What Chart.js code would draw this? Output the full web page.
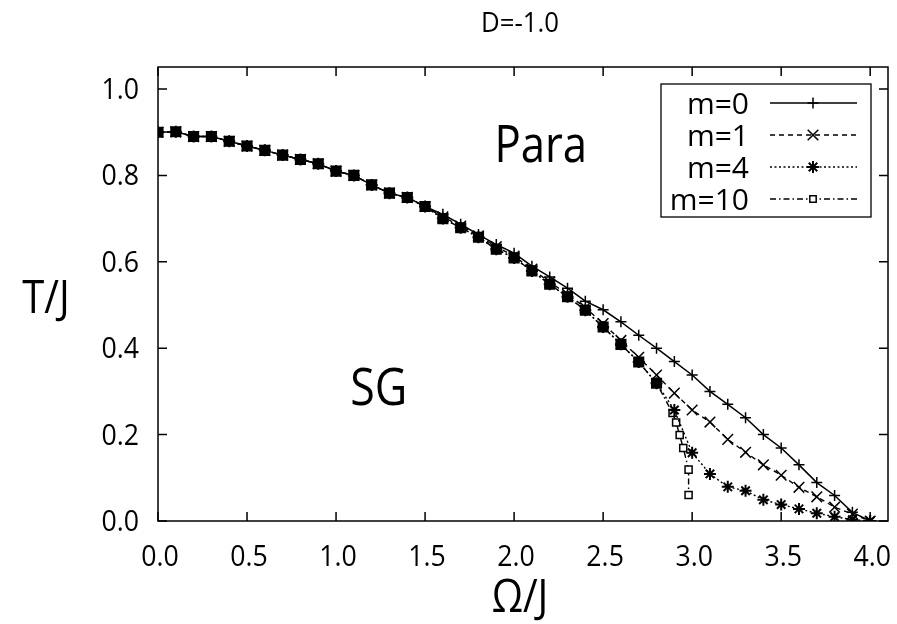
<!DOCTYPE html>
<html>
<head>
<meta charset="utf-8">
<script src="https://cdn.jsdelivr.net/npm/chart.js@4.4.1/dist/chart.umd.min.js"></script>
<style>
html,body{margin:0;padding:0;background:#fff;}
canvas{display:block;}
</style>
</head>
<body>
<canvas id="c" width="897" height="624"></canvas>
<script>
// ---- data ----
const omega = [0.0,0.1,0.2,0.3,0.4,0.5,0.6,0.7,0.8,0.9,1.0,1.1,1.2,1.3,1.4,1.5,1.6,1.7,1.8,1.9,2.0,
               2.1,2.2,2.3,2.4,2.5,2.6,2.7,2.8,2.9,3.0,3.1,3.2,3.3,3.4,3.5,3.6,3.7,3.8,3.9,4.0];
const tM0 = [0.900,0.901,0.890,0.890,0.879,0.868,0.858,0.847,0.837,0.827,0.810,0.800,0.778,0.759,0.749,0.728,
             0.710,0.687,0.663,0.640,0.620,0.590,0.565,0.539,0.509,0.489,0.461,0.430,0.400,0.369,0.338,
             0.300,0.270,0.239,0.200,0.169,0.130,0.089,0.059,0.020,0.000];
const tM1 = [0.900,0.901,0.890,0.890,0.879,0.868,0.858,0.847,0.837,0.827,0.810,0.800,0.778,0.759,0.749,0.728,
             0.704,0.683,0.660,0.635,0.613,0.583,0.553,0.525,0.494,0.457,0.418,0.379,0.338,0.296,0.257,
             0.229,0.189,0.159,0.130,0.106,0.078,0.056,0.032,0.016,0.000];
const tM4 = [0.900,0.901,0.890,0.890,0.879,0.868,0.858,0.847,0.837,0.827,0.810,0.800,0.778,0.759,0.749,0.728,
             0.700,0.679,0.657,0.629,0.609,0.579,0.548,0.519,0.488,0.449,0.409,0.368,0.319,0.257,0.158,
             0.109,0.079,0.070,0.049,0.038,0.028,0.018,0.010,0.003,0.000];
const omegaM10 = [0.0,0.1,0.2,0.3,0.4,0.5,0.6,0.7,0.8,0.9,1.0,1.1,1.2,1.3,1.4,1.5,1.6,1.7,1.8,1.9,2.0,
                  2.1,2.2,2.3,2.4,2.5,2.6,2.7,2.8,2.89,2.91,2.93,2.95,2.98,2.98];
const tM10 = [0.900,0.901,0.890,0.890,0.879,0.868,0.858,0.847,0.837,0.827,0.810,0.800,0.778,0.759,0.749,0.728,
              0.700,0.679,0.657,0.629,0.609,0.579,0.548,0.519,0.488,0.449,0.409,0.368,0.319,
              0.250,0.228,0.199,0.169,0.119,0.060];
const seriesNames = ['m=0','m=1','m=4','m=10'];
const xTicks = [0.0,0.5,1.0,1.5,2.0,2.5,3.0,3.5,4.0];
const yTicks = [0.0,0.2,0.4,0.6,0.8,1.0];
const xTickLabels = ['0.0','0.5','1.0','1.5','2.0','2.5','3.0','3.5','4.0'];
const yTickLabels = ['0.0','0.2','0.4','0.6','0.8','1.0'];
const titleText = 'D=-1.0';
const xTitle = 'Ω/J';
const yTitle = 'T/J';
const regionLabels = ['Para','SG'];

// ---- chart ----
const pts = (xs, ys) => xs.map((x, i) => ({x: x, y: ys[i]}));
const FONT = '"Open Sans", "DejaVu Sans", sans-serif';

const datasets = [
  {label: seriesNames[0], data: pts(omega, tM0), borderDash: [], pointStyle: 'cross', pointRadius: 5.5,
   borderColor:'#000', pointBorderColor:'#000', pointBackgroundColor:'#000', borderWidth: 1.5, pointBorderWidth: 1.5},
  {label: seriesNames[1], data: pts(omega, tM1), borderDash: [5,4], pointStyle: 'crossRot', pointRadius: 7.5,
   borderColor:'#000', pointBorderColor:'#000', pointBackgroundColor:'#000', borderWidth: 1.4, pointBorderWidth: 1.5},
  {label: seriesNames[2], data: pts(omega, tM4), borderDash: [2,2.5], pointStyle: 'star', pointRadius: 6,
   borderColor:'#000', pointBorderColor:'#000', pointBackgroundColor:'#000', borderWidth: 1.4, pointBorderWidth: 2},
  {label: seriesNames[3], data: pts(omegaM10, tM10), borderDash: [6,3,1.5,3], pointStyle: 'rect',
   pointRadius: c => (c.raw && c.raw.x <= 2.81) ? 6.8 : 5,
   pointBackgroundColor: c => (c.raw && c.raw.x <= 2.81) ? '#000' : '#fff',
   borderColor:'#000', pointBorderColor:'#000', borderWidth: 1.4, pointBorderWidth: 1.5}
];
datasets.forEach(d => { d.fill = false; d.tension = 0; d.pointHoverRadius = d.pointRadius; });

function txt(ctx, s, x, y, size, sx, align) {
  ctx.save();
  ctx.font = size + 'px ' + FONT;
  ctx.translate(x, y);
  ctx.scale(sx, 1);
  ctx.textAlign = align;
  ctx.textBaseline = 'alphabetic';
  ctx.fillText(s, 0, 0);
  ctx.restore();
}

const framePlugin = {
  id: 'frame',
  afterDraw(chart) {
    const ctx = chart.ctx, a = chart.chartArea;
    const xs = chart.scales.x, ys = chart.scales.y;
    ctx.save();
    ctx.strokeStyle = '#000';
    ctx.fillStyle = '#000';
    ctx.lineWidth = 1.5;
    ctx.setLineDash([]);
    ctx.strokeRect(a.left, a.top, a.right - a.left, a.bottom - a.top);
    ctx.beginPath();
    xTicks.forEach(v => {
      const p = xs.getPixelForValue(v);
      ctx.moveTo(p, a.bottom); ctx.lineTo(p, a.bottom - 9);
      ctx.moveTo(p, a.top); ctx.lineTo(p, a.top + 9);
    });
    yTicks.forEach(v => {
      const p = ys.getPixelForValue(v);
      ctx.moveTo(a.left, p); ctx.lineTo(a.left + 9, p);
      ctx.moveTo(a.right, p); ctx.lineTo(a.right - 9, p);
    });
    ctx.stroke();

    // tick labels
    xTicks.forEach((v, i) => txt(ctx, xTickLabels[i], xs.getPixelForValue(v) + 2, a.bottom + 45, 29, 0.92, 'center'));
    yTicks.forEach((v, i) => txt(ctx, yTickLabels[i], a.left - 19, ys.getPixelForValue(v) + 10, 29, 0.92, 'right'));

    // titles and region labels
    const cx = (a.left + a.right) / 2 - 3;
    txt(ctx, titleText, cx, 32, 28, 0.92, 'center');
    txt(ctx, yTitle, 46, 313, 46, 0.87, 'center');
    txt(ctx, xTitle, cx, 612, 46, 0.87, 'center');
    txt(ctx, regionLabels[0], xs.getPixelForValue(2.15), ys.getPixelForValue(0.83), 52, 0.84, 'center');
    txt(ctx, regionLabels[1], xs.getPixelForValue(1.24), ys.getPixelForValue(0.269), 52, 0.86, 'center');

    // legend
    const L = a.right - 227, R = a.right - 17, T = a.top + 17, B = a.top + 150;
    ctx.lineWidth = 1.3;
    ctx.strokeRect(L, T, R - L, B - T);
    chart.data.datasets.forEach((d, i) => {
      const y = T + 19 + i * 32;
      ctx.fillStyle = '#000';
      txt(ctx, d.label, L + 88, y + 11, 30, 1, 'right');
      ctx.beginPath();
      ctx.lineWidth = 1.3;
      ctx.setLineDash(d.borderDash);
      ctx.moveTo(L + 109, y); ctx.lineTo(L + 196, y);
      ctx.stroke();
      ctx.setLineDash([]);
      const r = (i === 3) ? 4.5 : (typeof d.pointRadius === 'number' ? d.pointRadius : 5);
      ctx.lineWidth = d.pointBorderWidth;
      ctx.fillStyle = '#fff';
      Chart.helpers.drawPoint(ctx, {pointStyle: d.pointStyle, rotation: 0, radius: r, borderWidth: d.pointBorderWidth}, L + 152, y);
    });
    ctx.restore();
  }
};

new Chart(document.getElementById('c'), {
  type: 'line',
  data: {datasets: datasets},
  options: {
    responsive: false,
    animation: false,
    devicePixelRatio: 1,
    layout: {padding: {left: 0, right: 8, top: 67, bottom: 0}},
    plugins: {legend: {display: false}, title: {display: false}, tooltip: {enabled: false}},
    scales: {
      x: {
        type: 'linear', min: 0, max: 4.1,
        afterFit(s) { s.height = 103; },
        afterBuildTicks(s) { s.ticks = xTicks.map(v => ({value: v})); },
        grid: {display: false},
        border: {display: false},
        ticks: {display: false}
      },
      y: {
        type: 'linear', min: 0, max: 1.051,
        afterFit(s) { s.width = 158; },
        afterBuildTicks(s) { s.ticks = yTicks.map(v => ({value: v})); },
        grid: {display: false},
        border: {display: false},
        ticks: {display: false}
      }
    }
  },
  plugins: [framePlugin]
});
</script>
</body>
</html>
